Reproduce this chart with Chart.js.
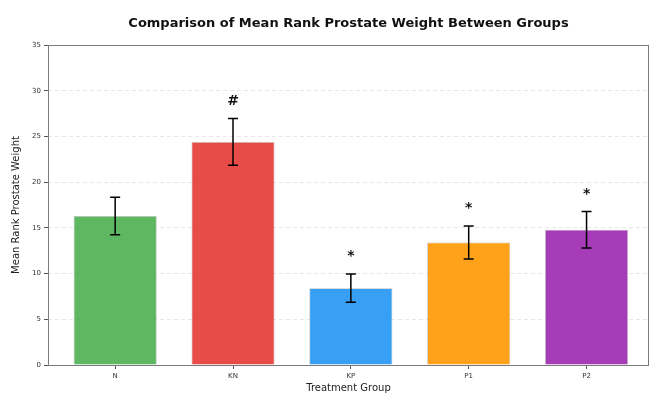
<!DOCTYPE html>
<html>
<head>
<meta charset="utf-8">
<script src="https://cdn.jsdelivr.net/npm/chart.js@4.4.1/dist/chart.umd.min.js"></script>
<style>
  html, body { margin: 0; padding: 0; background: #ffffff; }
  #wrap { width: 655px; height: 394px; }
</style>
</head>
<body>
<div id="wrap"><canvas id="chart" width="655" height="394"></canvas></div>
<script>
// Groups and their mean ranks (with error half-widths) for prostate weight
const groups = ['N', 'KN', 'KP', 'P1', 'P2'];
const meanRanks = [16.3, 24.4, 8.4, 13.4, 14.8];
const errors = [2.05, 2.55, 1.55, 1.8, 2.0];
const marks = ['', '#', '*', '*', '*'];
const barColors = [
  'rgba(76, 175, 80, 0.9)',
  'rgba(229, 57, 53, 0.9)',
  'rgba(33, 150, 243, 0.9)',
  'rgba(255, 152, 0, 0.9)',
  'rgba(156, 39, 176, 0.9)'
];
const yTicks = [0, 5, 10, 15, 20, 25, 30, 35];

const FONT = "'DejaVu Sans', sans-serif";

// Box around the plotting area (all four spines)
const frame = {
  id: 'frame',
  afterDatasetsDraw(chart) {
    const { ctx, chartArea: a } = chart;
    ctx.save();
    ctx.strokeStyle = '#7a7a7a';
    ctx.lineWidth = 1;
    ctx.strokeRect(a.left + 0.5, a.top + 0.5, a.right - a.left - 1, a.bottom - a.top);
    ctx.restore();
  }
};

// Error bars with caps plus significance marks above each bar
const errorBars = {
  id: 'errorBars',
  afterDatasetsDraw(chart) {
    const { ctx } = chart;
    const xs = chart.scales.x, ys = chart.scales.y;
    ctx.save();
    ctx.strokeStyle = '#000';
    ctx.lineWidth = 1.5;
    meanRanks.forEach((m, i) => {
      const x = xs.getPixelForValue(i);
      const yt = ys.getPixelForValue(m + errors[i]);
      const yb = ys.getPixelForValue(m - errors[i]);
      ctx.beginPath();
      ctx.moveTo(x, yt); ctx.lineTo(x, yb);
      ctx.moveTo(x - 5, yt); ctx.lineTo(x + 5, yt);
      ctx.moveTo(x - 5, yb); ctx.lineTo(x + 5, yb);
      ctx.stroke();
      if (marks[i]) {
        ctx.fillStyle = '#111';
        ctx.font = 'bold 14px ' + FONT;
        ctx.textAlign = 'center';
        ctx.textBaseline = 'alphabetic';
        ctx.fillText(marks[i], x, ys.getPixelForValue(m + errors[i] + 1.5));
      }
    });
    ctx.restore();
  }
};

new Chart(document.getElementById('chart'), {
  type: 'bar',
  data: {
    datasets: [{
      data: groups.map((g, i) => ({ x: i, y: meanRanks[i] })),
      backgroundColor: barColors,
      borderColor: 'rgba(0,0,0,0.25)',
      borderWidth: 0.8,
      categoryPercentage: 1.0,
      barPercentage: 0.705
    }]
  },
  options: {
    responsive: false,
    animation: false,
    devicePixelRatio: 1,
    layout: { padding: { left: 0, right: 6, top: 0, bottom: 0 } },
    plugins: {
      legend: { display: false },
      tooltip: { enabled: false },
      title: {
        display: true,
        fullSize: false,
        text: 'Comparison of Mean Rank Prostate Weight Between Groups',
        color: '#111',
        font: { family: FONT, size: 13, weight: 'bold' },
        padding: { top: 16, bottom: 13.4 }
      }
    },
    scales: {
      x: {
        type: 'linear',
        min: -0.57,
        max: 4.53,
        offset: false,
        afterBuildTicks(scale) { scale.ticks = groups.map((g, i) => ({ value: i })); },
        afterFit(scale) { scale.height = 29; },
        ticks: {
          autoSkip: false,
          maxRotation: 0,
          padding: 3,
          color: '#333',
          font: { family: FONT, size: 7 },
          callback: (v) => groups[v]
        },
        grid: { offset: false, drawOnChartArea: false, drawTicks: true, tickLength: 4, tickColor: '#555' },
        border: { display: false },
        title: {
          display: true,
          text: 'Treatment Group',
          color: '#222',
          font: { family: FONT, size: 10 },
          padding: { top: 0, bottom: 0 }
        }
      },
      y: {
        min: 0,
        max: 35,
        afterBuildTicks(scale) { scale.ticks = yTicks.map(v => ({ value: v })); },
        afterFit(scale) { scale.width = 48; },
        ticks: {
          padding: 3,
          color: '#333',
          font: { family: FONT, size: 7 }
        },
        grid: {
          color: 'rgba(0,0,0,0.09)',
          tickColor: '#555',
          tickLength: 4,
          tickBorderDash: []
        },
        border: { display: false, dash: [4, 3] },
        title: {
          display: true,
          text: 'Mean Rank Prostate Weight',
          color: '#222',
          font: { family: FONT, size: 10 },
          padding: { top: 10, bottom: 0 }
        }
      }
    }
  },
  plugins: [frame, errorBars]
});
</script>
</body>
</html>
